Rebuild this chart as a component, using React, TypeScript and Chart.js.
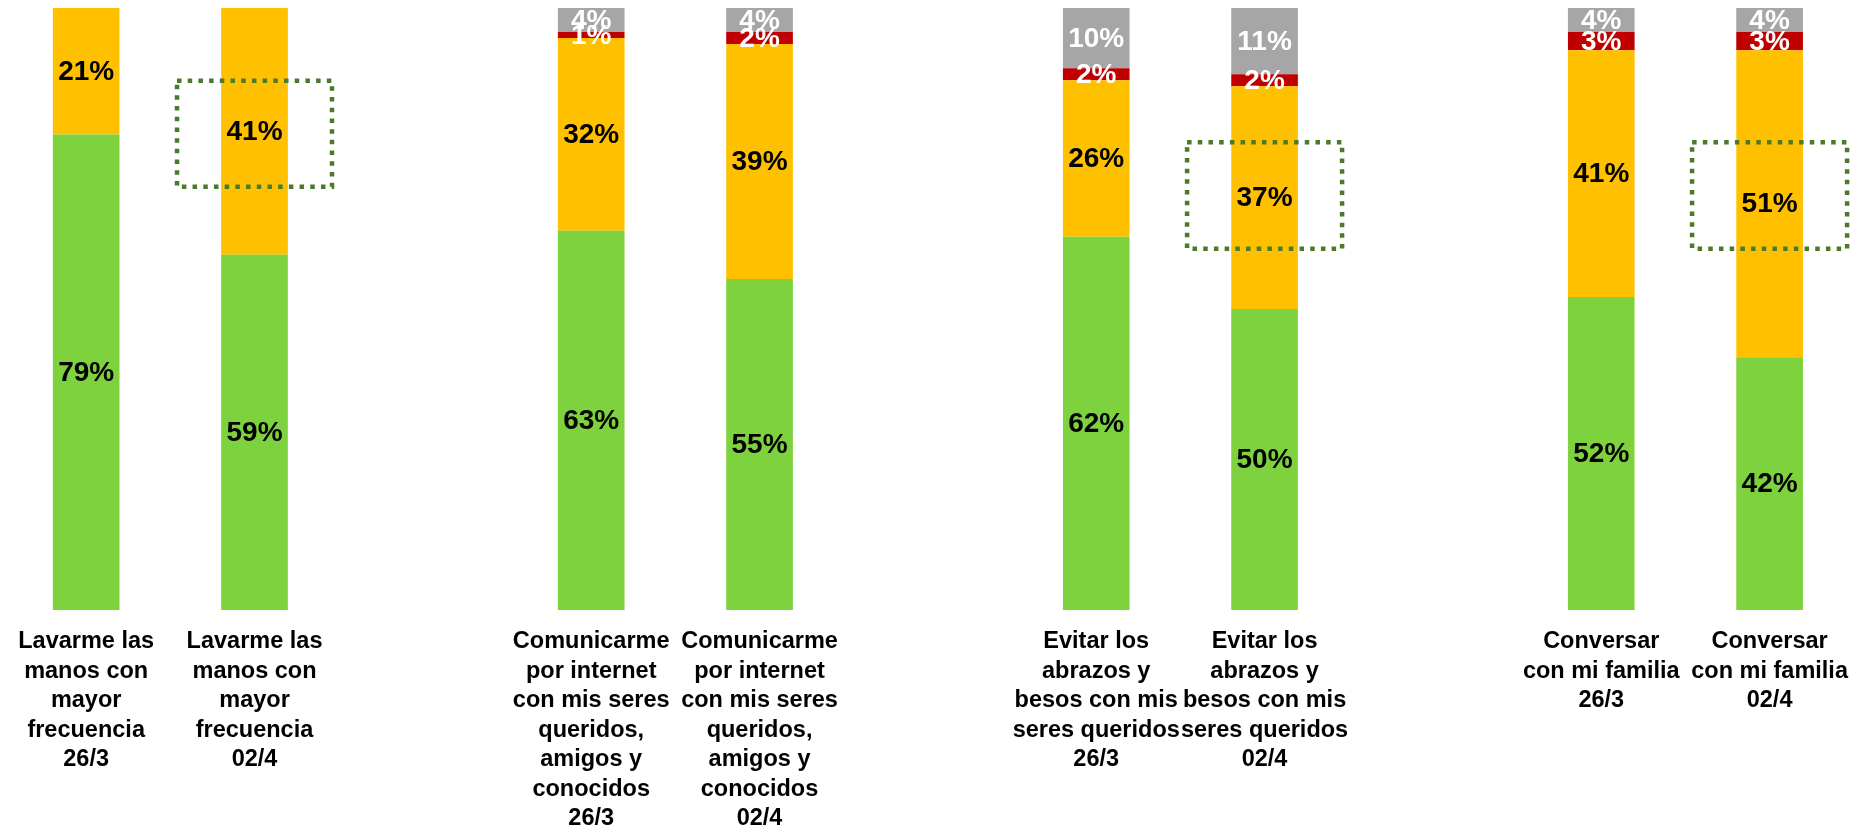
import { useEffect, useRef } from "react";
import { Chart, registerables } from "chart.js";

Chart.register(...registerables);

// Categories (empty entries are the gaps between pairs)
const categories: string[][] = [
  ["Lavarme las", "manos con", "mayor", "frecuencia", "26/3"],
  ["Lavarme las", "manos con", "mayor", "frecuencia", "02/4"],
  [""],
  ["Comunicarme", "por internet", "con mis seres", "queridos,", "amigos y", "conocidos", "26/3"],
  ["Comunicarme", "por internet", "con mis seres", "queridos,", "amigos y", "conocidos", "02/4"],
  [""],
  ["Evitar los", "abrazos y", "besos con mis", "seres queridos", "26/3"],
  ["Evitar los", "abrazos y", "besos con mis", "seres queridos", "02/4"],
  [""],
  ["Conversar", "con mi familia", "26/3"],
  ["Conversar", "con mi familia", "02/4"],
];

const seriesNames = ["Serie 1", "Serie 2", "Serie 3", "Serie 4"];
const greenValues = [79, 59, null, 63, 55, null, 62, 50, null, 52, 42];
const yellowValues = [21, 41, null, 32, 39, null, 26, 37, null, 41, 51];
const redValues = [0, 0, null, 1, 2, null, 2, 2, null, 3, 3];
const grayValues = [0, 0, null, 4, 4, null, 10, 11, null, 4, 4];

// Highlight boxes (category index, value range in %)
const highlightIndex = [1, 7, 10];
const highlightFrom = [70.3, 60.0, 60.0];
const highlightTo = [87.9, 77.7, 77.7];

const seriesColors = ["#7ED23E", "#FFC000", "#C00000", "#A6A6A6"];
const labelColors = ["#000000", "#000000", "#FFFFFF", "#FFFFFF"];
const FONT = "'Liberation Sans', Arial, sans-serif";

const valueLabelsPlugin = {
  id: "valueLabels",
  afterDatasetsDraw(chart: any) {
    const ctx = chart.ctx;
    ctx.save();
    ctx.font = `bold 28px ${FONT}`;
    ctx.textAlign = "center";
    ctx.textBaseline = "middle";
    chart.data.datasets.forEach((ds: any, di: number) => {
      const meta = chart.getDatasetMeta(di);
      meta.data.forEach((el: any, i: number) => {
        const v = ds.data[i];
        if (v == null || v <= 0) return;
        const props = el.getProps(["x", "y", "base"], true);
        ctx.fillStyle = labelColors[di];
        ctx.fillText(`${v}%`, props.x, (props.y + props.base) / 2 + 1);
      });
    });
    ctx.restore();
  },
};

const highlightPlugin = {
  id: "highlightBoxes",
  afterDraw(chart: any) {
    const ctx = chart.ctx;
    const xs = chart.scales.x;
    const ys = chart.scales.y;
    ctx.save();
    ctx.strokeStyle = "#4A7A2A";
    ctx.lineWidth = 4.5;
    ctx.setLineDash([4.5, 6.2]);
    highlightIndex.forEach((idx, k) => {
      const cx = xs.getPixelForValue(idx);
      const top = ys.getPixelForValue(highlightTo[k]);
      const bottom = ys.getPixelForValue(highlightFrom[k]);
      ctx.strokeRect(cx - 77.5, top, 155, bottom - top);
    });
    ctx.restore();
  },
};

export default function App() {
  const canvasRef = useRef<HTMLCanvasElement | null>(null);

  useEffect(() => {
    if (!canvasRef.current) return;
    const values = [greenValues, yellowValues, redValues, grayValues];
    const chart = new Chart(canvasRef.current, {
      type: "bar",
      data: {
        labels: categories,
        datasets: values.map((d, i) => ({
          label: seriesNames[i],
          data: d,
          backgroundColor: seriesColors[i],
          borderWidth: 0,
          barPercentage: 0.396,
          categoryPercentage: 1,
        })),
      },
      options: {
        animation: false,
        responsive: false,
        layout: { padding: { left: 2, right: 1, top: 8, bottom: 0 } },
        plugins: {
          legend: { display: false },
          tooltip: { enabled: false },
        },
        scales: {
          x: {
            stacked: true,
            grid: { display: false, drawTicks: false },
            border: { display: false },
            afterFit: (scale: any) => {
              scale.height = 227;
            },
            ticks: {
              autoSkip: false,
              maxRotation: 0,
              minRotation: 0,
              padding: 17,
              color: "#000000",
              font: { family: FONT, size: 23.5, weight: "bold", lineHeight: "29.5px" },
            },
          },
          y: {
            stacked: true,
            display: false,
            min: 0,
            max: 100,
          },
        },
      },
      plugins: [valueLabelsPlugin, highlightPlugin],
    });
    return () => chart.destroy();
  }, []);

  return (
    <div style={{ position: "absolute", left: 0, top: 0, width: 1865, height: 837, background: "#fff" }}>
      <canvas ref={canvasRef} width={1865} height={837} />
    </div>
  );
}
